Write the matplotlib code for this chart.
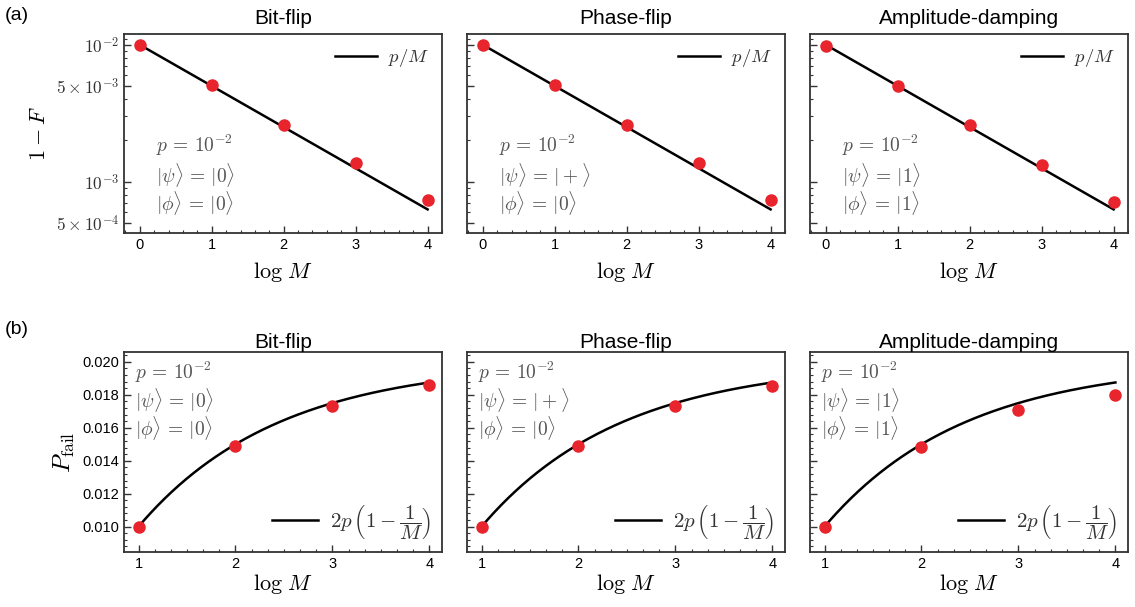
import numpy as np
import matplotlib
matplotlib.use('Agg')
import matplotlib.pyplot as plt
from matplotlib.ticker import FixedLocator, NullFormatter, FixedFormatter, MultipleLocator

plt.rcParams.update({'font.family': 'Liberation Sans', 'mathtext.fontset': 'cm'})

###########################
# data
###########################
p = 1e-2
titles = ['Bit-flip', 'Phase-flip', 'Amplitude-damping']
psi_labels = [r'$|\psi\rangle\,=\,|0\rangle$', r'$|\psi\rangle\,=\,|+\rangle$', r'$|\psi\rangle\,=\,|1\rangle$']
phi_labels = [r'$|\phi\rangle\,=\,|0\rangle$', r'$|\phi\rangle\,=\,|0\rangle$', r'$|\phi\rangle\,=\,|1\rangle$']

# (a) infidelity, x = log M
logM_a = [0, 1, 2, 3, 4]
infid_bit = [0.0100, 0.00508, 0.00261, 0.00136, 0.000731]
infid_phase = [0.0100, 0.00508, 0.00260, 0.00136, 0.000730]
infid_amp = [0.00985, 0.00500, 0.00257, 0.00133, 0.000714]

# (b) failure probability
logM_b = [1, 2, 3, 4]
pfail_bit = [0.00996, 0.01491, 0.01734, 0.01857]
pfail_phase = [0.00995, 0.01488, 0.01734, 0.01856]
pfail_amp = [0.00996, 0.01483, 0.01709, 0.01796]

infid_all = [infid_bit, infid_phase, infid_amp]
pfail_all = [pfail_bit, pfail_phase, pfail_amp]

W, H = 1135, 607
fig = plt.figure(figsize=(W / 100, H / 100), dpi=100)

lefts = [124, 467, 810]
pw = 318
red = '#e8242c'
txt_gray = '#555555'
spine_c = '#333333'


def style_axis(ax):
    for s in ax.spines.values():
        s.set_color(spine_c)
        s.set_linewidth(1.3)
    ax.tick_params(which='both', direction='in', top=False, right=False, colors=spine_c)
    ax.tick_params(which='major', length=5, width=1.0, labelsize=10.5, labelcolor='black')
    ax.tick_params(which='minor', length=2.5, width=0.8)


x_line_a = np.linspace(0, 4, 200)
x_line_b = np.linspace(1, 4, 200)

for i in range(3):
    # top row
    ax = fig.add_axes([lefts[i] / W, 1 - 233 / H, pw / W, 199 / H])
    ax.plot(x_line_a, p / 2 ** x_line_a, color='black', lw=1.8, label=r'$p/M$', zorder=2)
    ax.plot(logM_a, infid_all[i], 'o', color=red, ms=8, zorder=3)
    ax.set_yscale('log')
    ax.set_xlim(-0.22, 4.2)
    ax.set_ylim(4.2e-4, 0.012)
    ax.xaxis.set_major_locator(MultipleLocator(1))
    ax.xaxis.set_minor_locator(MultipleLocator(0.2))
    ax.yaxis.set_major_locator(FixedLocator([5e-4, 1e-3, 5e-3, 1e-2]))
    minors = [v * 1e-4 for v in range(5, 10)] + [v * 1e-3 for v in range(2, 10) if v != 5] + [1.1e-2]
    ax.yaxis.set_minor_locator(FixedLocator(minors))
    ax.yaxis.set_minor_formatter(NullFormatter())
    style_axis(ax)
    if i == 0:
        ax.yaxis.set_major_formatter(FixedFormatter([r'$5\times10^{-4}$', r'$10^{-3}$',
                                                     r'$5\times10^{-3}$', r'$10^{-2}$']))
        ax.tick_params(axis='y', which='major', labelsize=12.5, labelcolor='#333333')
        ax.set_ylabel(r'$1-F$', fontsize=16, labelpad=4)
    else:
        ax.yaxis.set_major_formatter(NullFormatter())
    ax.set_xlabel(r'$\log\,M$', fontsize=16, labelpad=6)
    ax.set_title(titles[i], fontsize=15, pad=7)
    ax.text(0.1, 0.44, r'$p\,=\,10^{-2}$', transform=ax.transAxes, fontsize=14, color=txt_gray, va='center')
    ax.text(0.1, 0.29, psi_labels[i], transform=ax.transAxes, fontsize=14, color=txt_gray, va='center')
    ax.text(0.1, 0.15, phi_labels[i], transform=ax.transAxes, fontsize=14, color=txt_gray, va='center')
    leg = ax.legend(loc='upper right', frameon=False, fontsize=13.5, handlelength=2.2,
                    borderaxespad=0.3, handletextpad=0.6)
    for t in leg.get_texts():
        t.set_color('#333333')

    # bottom row
    ax = fig.add_axes([lefts[i] / W, 1 - 552 / H, pw / W, 200 / H])
    M = 2 ** x_line_b
    ax.plot(x_line_b, 2 * p * (1 - 1 / M), color='black', lw=1.8,
            label=r'$2p\,\left(1-\dfrac{1}{M}\right)$', zorder=2)
    ax.plot(logM_b, pfail_all[i], 'o', color=red, ms=8, zorder=3)
    ax.set_xlim(0.85, 4.13)
    ax.set_ylim(0.00846, 0.0206)
    ax.xaxis.set_major_locator(MultipleLocator(1))
    ax.xaxis.set_minor_locator(MultipleLocator(1 / 6))
    ax.yaxis.set_major_locator(FixedLocator([0.010, 0.012, 0.014, 0.016, 0.018, 0.020]))
    ax.yaxis.set_minor_locator(MultipleLocator(0.0004))
    if i == 0:
        ax.yaxis.set_major_formatter(FixedFormatter(['0.010', '0.012', '0.014', '0.016', '0.018', '0.020']))
        ax.set_ylabel(r'$P_{\mathrm{fail}}$', fontsize=18, labelpad=4)
    else:
        ax.yaxis.set_major_formatter(NullFormatter())
    style_axis(ax)
    ax.set_xlabel(r'$\log\,M$', fontsize=16, labelpad=1)
    ax.set_title(titles[i], fontsize=15, pad=3)
    ax.text(0.035, 0.90, r'$p\,=\,10^{-2}$', transform=ax.transAxes, fontsize=14, color=txt_gray, va='center')
    ax.text(0.035, 0.76, psi_labels[i], transform=ax.transAxes, fontsize=14, color=txt_gray, va='center')
    ax.text(0.035, 0.62, phi_labels[i], transform=ax.transAxes, fontsize=14, color=txt_gray, va='center')
    leg = ax.legend(loc='lower right', frameon=False, fontsize=15, handlelength=2.2,
                    borderaxespad=0.1, handletextpad=0.6)
    for t in leg.get_texts():
        t.set_color('#333333')

fig.text(5 / W, 1 - 16 / H, '(a)', fontsize=14, va='center', ha='left')
fig.text(5 / W, 1 - 330 / H, '(b)', fontsize=14, va='center', ha='left')

fig.savefig('out.png', dpi=100)
